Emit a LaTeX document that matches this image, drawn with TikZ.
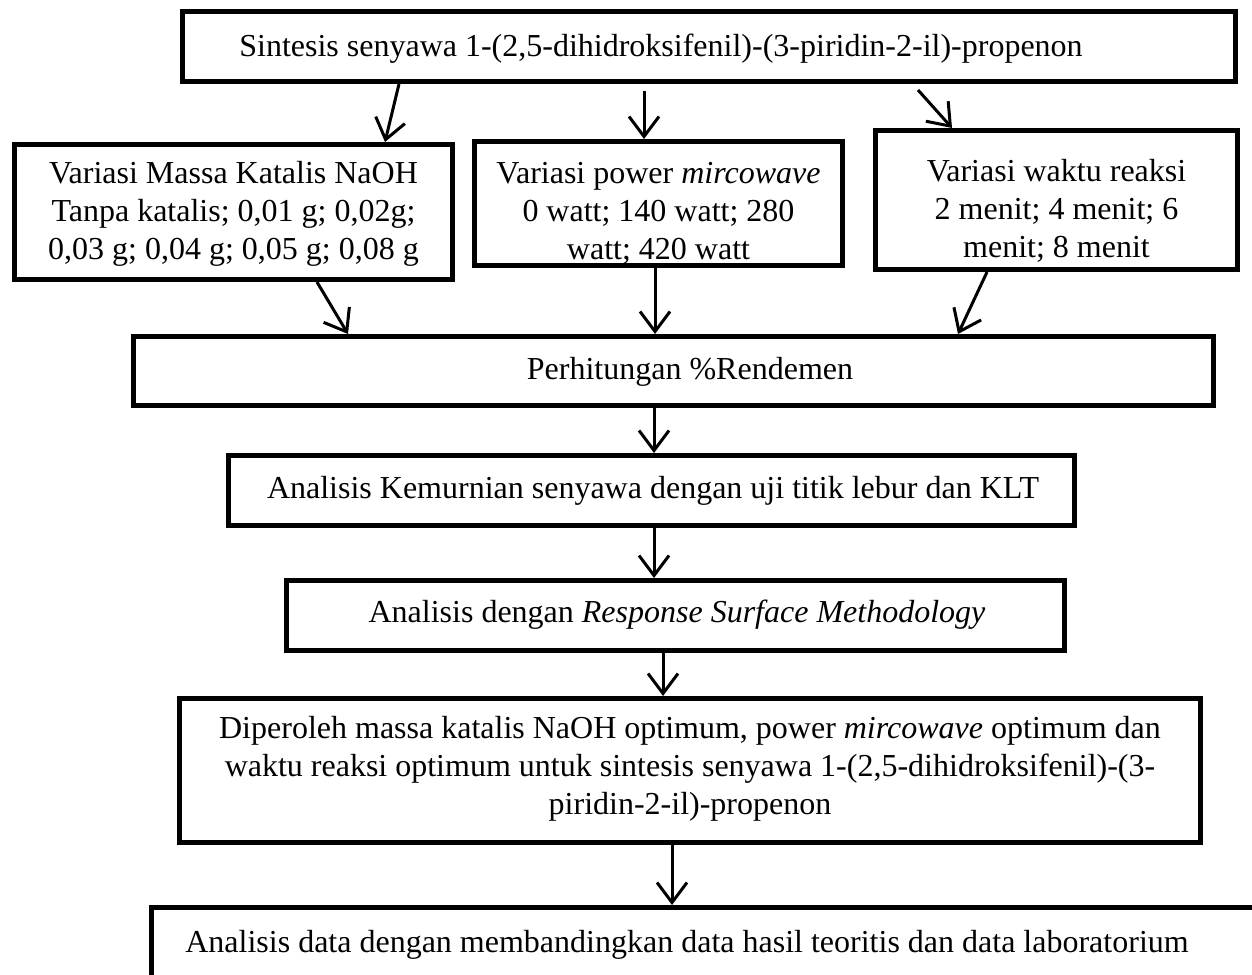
\documentclass[tikz,border=0pt]{standalone}
\usepackage{fontspec}
\setmainfont{Liberation Serif}
\usetikzlibrary{arrows.meta}
\begin{document}
\begin{tikzpicture}[x=1pt,y=-1pt,
  box/.style={draw=black, line width=5pt, fill=white, inner sep=0pt},
  txt/.style={font=\fontsize{32}{38}\selectfont, align=center, inner sep=0pt},
  arr/.style={line width=3pt, -{Straight Barb[length=20pt,width=30pt]}}]
\useasboundingbox (0,0) rectangle (1252,974);
\fill[white] (0,0) rectangle (1252,974);
\clip (0,0) rectangle (1252,974);
% boxes
\node[box, minimum width=1053, minimum height=70] (b1) at (709,46.5) {};
\node[box, minimum width=438, minimum height=135] (b2) at (233.5,212) {};
\node[box, minimum width=368, minimum height=124] (b3) at (658.5,203.5) {};
\node[box, minimum width=362, minimum height=139] (b4) at (1056.5,200) {};
\node[box, minimum width=1080, minimum height=69] (b5) at (673.5,371) {};
\node[box, minimum width=846, minimum height=70] (b6) at (651.5,490.5) {};
\node[box, minimum width=778, minimum height=70] (b7) at (675.5,615.5) {};
\node[box, minimum width=1021, minimum height=144] (b8) at (690,770.5) {};
\node[box, minimum width=1166, minimum height=130] (b9) at (734.5,972.5) {};
% texts
\node[txt] (t1) at (661,49) {Sintesis senyawa 1-(2,5-dihidroksifenil)-(3-piridin-2-il)-propenon};
\node[txt] (t2) at (233.5,214) {Variasi Massa Katalis NaOH\\Tanpa katalis; 0,01 g; 0,02g;\\0,03 g; 0,04 g; 0,05 g; 0,08 g};
\node[txt] (t3) at (658.5,213) {Variasi power \textit{mircowave}\\0 watt; 140 watt; 280\\watt; 420 watt};
\node[txt] (t4) at (1056.5,211) {Variasi waktu reaksi\\2 menit; 4 menit; 6\\menit; 8 menit};
\node[txt] (t5) at (690,372) {Perhitungan \%Rendemen};
\node[txt] (t6) at (653,491) {Analisis Kemurnian senyawa dengan uji titik lebur dan KLT};
\node[txt] (t7) at (677,615) {Analisis dengan \textit{Response Surface Methodology}};
\node[txt] (t8) at (690,769) {Diperoleh massa katalis NaOH optimum, power \textit{mircowave} optimum dan\\waktu reaksi optimum untuk sintesis senyawa 1-(2,5-dihidroksifenil)-(3-\\piridin-2-il)-propenon};
\node[txt] (t9) at (687,945) {Analisis data dengan membandingkan data hasil teoritis dan data laboratorium};
% arrows
\draw[arr] ([xshift=-310]b1.south) -- ([xshift=151.5]b2.north);
\draw[arr] ([xshift=-65,yshift=-7]b1.south) -- ([xshift=-14.5]b3.north);
\draw[arr] ([xshift=209,yshift=-6]b1.south) -- ([xshift=-104.5]b4.north);
\draw[arr] ([xshift=83.5]b2.south) -- ([xshift=-325.5]b5.north);
\draw[arr] ([xshift=-3.5]b3.south) -- ([xshift=-18.5]b5.north);
\draw[arr] ([xshift=-69.5]b4.south) -- ([xshift=284.5]b5.north);
\draw[arr] ([xshift=-19.5]b5.south) -- ([xshift=2.5]b6.north);
\draw[arr] ([xshift=2.5]b6.south) -- ([xshift=-21.5]b7.north);
\draw[arr] ([xshift=-12.5]b7.south) -- ([xshift=-27]b8.north);
\draw[arr] ([xshift=-18]b8.south) -- ([xshift=-62.5]b9.north);
\end{tikzpicture}
\end{document}
